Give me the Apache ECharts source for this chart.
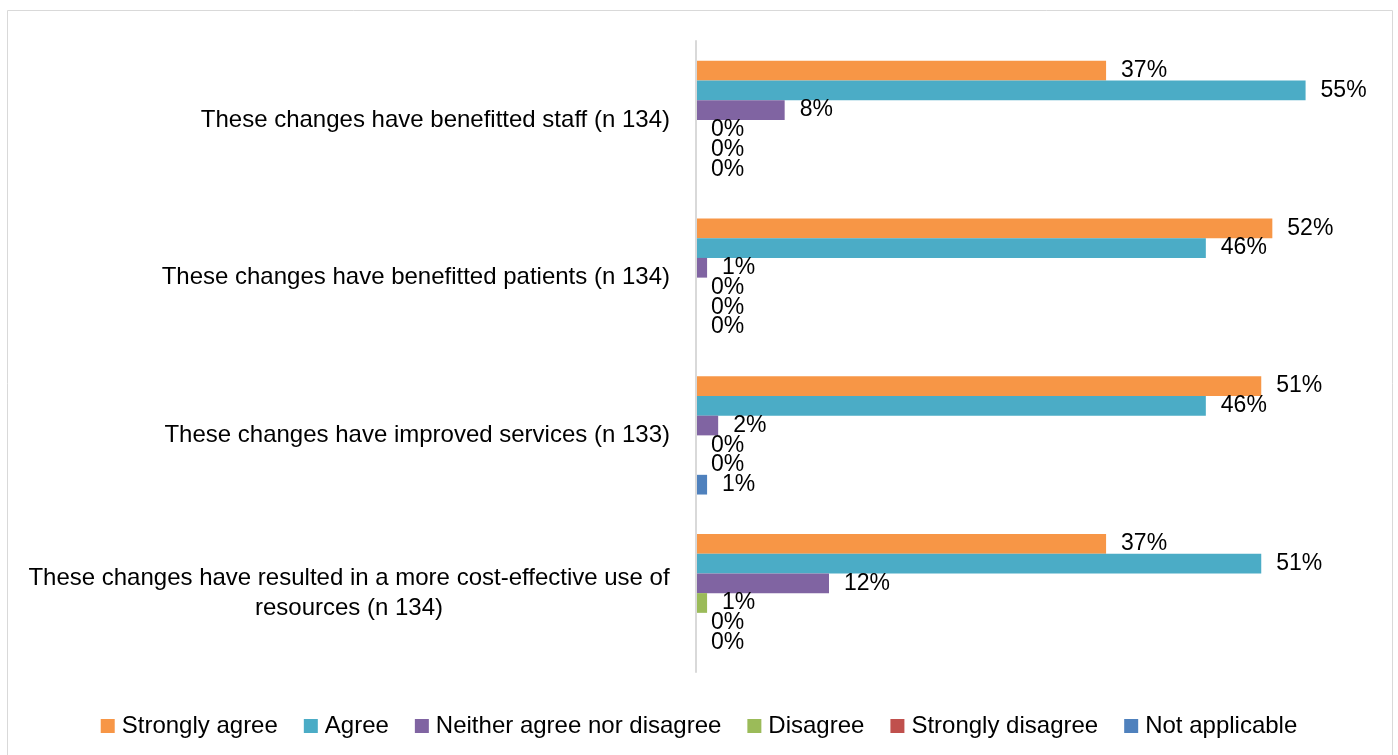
<!DOCTYPE html>
<html>
<head>
<meta charset="utf-8">
<script src="https://cdn.jsdelivr.net/npm/echarts@6/dist/echarts.min.js"></script>
<style>
  html, body { margin: 0; padding: 0; background: #fff; }
  #chart { width: 1398px; height: 755px; }
</style>
</head>
<body>
<div id="chart"></div>
<script>
// Survey statements (top to bottom)
const categories = [
  'These changes have benefitted staff (n 134)',
  'These changes have benefitted patients (n 134)',
  'These changes have improved services (n 133)',
  'These changes have resulted in a more cost-effective use of\nresources (n 134)'
];

// Response shares, percent, one value per statement
const stronglyAgree    = [37, 52, 51, 37];
const agree            = [55, 46, 46, 51];
const neither          = [8, 1, 2, 12];
const disagree         = [0, 0, 0, 1];
const stronglyDisagree = [0, 0, 0, 0];
const notApplicable    = [0, 0, 1, 0];

const seriesNames = ['Strongly agree', 'Agree', 'Neither agree nor disagree',
                     'Disagree', 'Strongly disagree', 'Not applicable'];
const seriesData = [stronglyAgree, agree, neither, disagree, stronglyDisagree, notApplicable];
const colors = ['#F79646', '#4BACC6', '#8064A2', '#9BBB59', '#C0504D', '#4F81BD'];

const FONT = 'Liberation Sans';
const TEXT_SIZE = 24;   // category labels and legend
const VALUE_SIZE = 23;  // bar value labels

// Width of the widest line of a label, so wrapped lines can be centred
// within a block that is itself right-aligned against the axis.
const measureCtx = document.createElement('canvas').getContext('2d');
measureCtx.font = TEXT_SIZE + 'px "' + FONT + '"';
function blockWidth(text) {
  return Math.ceil(Math.max(...text.split('\n').map(l => measureCtx.measureText(l).width)));
}

const chart = echarts.init(document.getElementById('chart'), null, { renderer: 'canvas' });

chart.setOption({
  animation: false,
  color: colors,
  textStyle: { fontFamily: FONT },
  graphic: [{
    type: 'rect',
    shape: { x: 7.5, y: 10.5, width: 1385, height: 760 },
    style: { fill: 'none', stroke: '#d9d9d9', lineWidth: 1 },
    silent: true
  }],
  legend: {
    top: 709,
    left: 'center',
    itemWidth: 14,
    itemHeight: 14,
    itemGap: 26,
    icon: 'rect',
    textStyle: { fontFamily: FONT, fontSize: TEXT_SIZE, color: '#000', padding: [0, 0, 0, 2] },
    data: seriesNames
  },
  grid: { left: 696, right: 37, top: 41, bottom: 83, containLabel: false },
  xAxis: {
    type: 'value',
    min: 0,
    max: 60,
    interval: 10,
    axisLine: { show: false },
    axisTick: { show: false },
    axisLabel: { show: false },
    splitLine: { show: false }
  },
  yAxis: {
    type: 'category',
    inverse: true,
    data: categories,
    z: 5,
    axisLine: { show: true, lineStyle: { color: '#d9d9d9', width: 2 } },
    axisTick: { show: false },
    axisLabel: {
      margin: 26,
      align: 'right',
      fontFamily: FONT,
      fontSize: TEXT_SIZE,
      color: '#000',
      formatter: function (value, idx) {
        if (value.indexOf('\n') < 0) return value;
        return value.split('\n').map(l => '{w' + idx + '|' + l + '}').join('\n');
      },
      rich: Object.fromEntries(categories.map((c, i) => ['w' + i, {
        width: blockWidth(c), align: 'center',
        fontFamily: FONT, fontSize: TEXT_SIZE, color: '#000', lineHeight: 30
      }]))
    }
  },
  series: seriesNames.map((name, i) => ({
    name: name,
    type: 'bar',
    data: seriesData[i],
    barGap: '0%',
    barCategoryGap: '25%',
    itemStyle: { color: colors[i] },
    label: {
      show: true,
      position: 'right',
      distance: 15,
      formatter: '{c}%',
      fontFamily: FONT,
      fontSize: VALUE_SIZE,
      color: '#000'
    }
  }))
});
</script>
</body>
</html>
